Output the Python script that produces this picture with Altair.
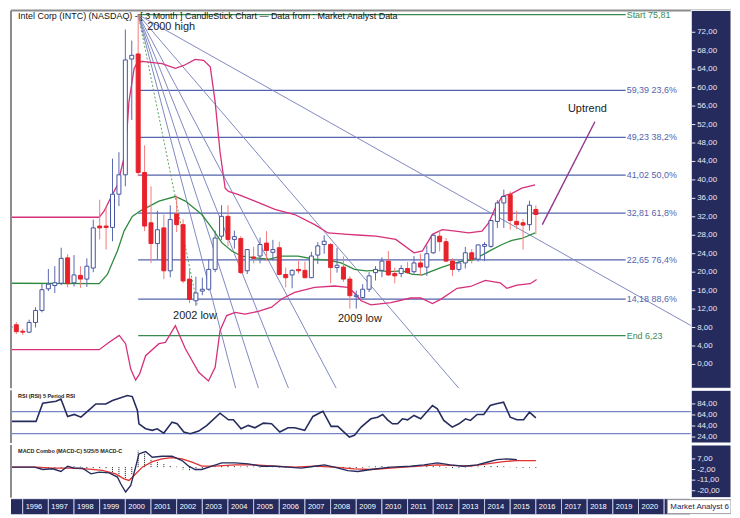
import altair as alt
import pandas as pd

# ---------------- colours ----------------
NAVY = "#262b5e"
UP_STROKE = "#4453a0"
UP_WICK = "#5a69ad"
DOWN_FILL = "#e8222a"
DOWN_WICK = "#f07c7c"
MA_GREEN = "#2e8b3e"
BB_PINK = "#d6307a"
FIB_BLUE = "#5463ad"
FIB_GREEN = "#3b8a52"
FAN_BLUE = "#7f88c2"

# ---------------- display extents ----------------
T_MIN, T_MAX = 1995.543, 2023.605
PANEL_T = 2022.055
TICK_LEN_T = 0.16
PRICE_DOMAIN = [-5.17, 76.74]
RSI_DOMAIN = [13.2, 108.7]
MACD_DOMAIN = [-25.9, 18.8]
W = 724
H_MAIN, H_RSI, H_MACD, H_BAND = 380, 53, 53, 16

# ---------------- quarterly candles (Q3 1995 .. Q1 2016) ----------------
opens = [7.9, 8.6,
         7.2, 7.0, 9.1, 11.7,
         16.4, 17.1, 17.6, 23.1,
         17.7, 19.3, 18.5, 20.9,
         30.0, 30.0, 29.7, 36.9,
         41.1, 66.2, 67.3, 41.6,
         30.7, 26.2, 29.6, 20.3,
         32.6, 30.3, 18.5, 13.8,
         15.9, 16.3, 20.6, 27.8,
         32.1, 27.1, 27.3, 20.3,
         23.3, 23.5, 26.3, 24.3,
         25.3, 19.5, 19.4, 20.6,
         20.4, 18.8, 23.7, 26.0,
         26.0, 21.0, 21.1, 18.5,
         14.7, 14.5, 16.3, 19.9,
         20.4, 22.4, 19.7, 19.7,
         20.8, 20.1, 22.0, 21.1,
         24.2, 27.8, 26.6, 22.4,
         20.6, 22.0, 24.2, 22.8,
         25.6, 25.6, 31.0, 35.0,
         36.8, 31.0, 30.7, 30.3,
         33.6]
highs = [9.1, 9.2,
         7.7, 9.7, 12.4, 17.5,
         20.7, 21.3, 25.3, 23.9,
         23.7, 21.3, 23.0, 31.4,
         35.7, 34.3, 44.6, 46.0,
         72.6, 70.2, 75.81, 47.5,
         38.6, 33.3, 32.5, 34.5,
         36.6, 31.5, 20.6, 19.0,
         18.8, 22.8, 29.0, 34.5,
         34.5, 29.0, 27.8, 25.0,
         25.5, 27.5, 28.9, 27.0,
         26.6, 21.0, 20.6, 22.5,
         22.3, 24.4, 26.5, 28.0,
         26.3, 25.3, 23.4, 19.1,
         16.0, 17.4, 20.0, 21.3,
         23.2, 24.6, 21.0, 21.5,
         22.2, 23.5, 24.0, 25.8,
         28.2, 28.9, 27.4, 23.0,
         22.5, 25.5, 25.0, 26.0,
         26.5, 31.3, 35.6, 37.9,
         37.5, 33.3, 31.5, 35.5,
         34.5]
lows = [7.5, 6.6,
        6.4, 6.8, 8.0, 11.3,
        15.9, 15.5, 17.2, 16.7,
        16.9, 16.6, 16.8, 20.0,
        27.1, 24.9, 26.7, 34.3,
        38.6, 53.0, 40.8, 28.9,
        22.0, 22.8, 18.5, 18.9,
        28.7, 17.6, 13.3, 12.7,
        15.0, 16.0, 20.0, 27.0,
        25.7, 25.1, 19.6, 19.6,
        21.9, 21.9, 22.5, 22.5,
        19.3, 16.7, 16.5, 19.7,
        18.7, 18.7, 21.8, 24.0,
        17.6, 19.9, 17.9, 12.1,
        12.1, 14.3, 15.7, 18.2,
        18.9, 19.2, 17.6, 18.9,
        19.6, 19.6, 19.2, 19.2,
        24.0, 24.5, 22.2, 19.2,
        20.1, 20.8, 21.9, 22.3,
        22.4, 25.3, 29.6, 29.6,
        29.2, 29.3, 24.9, 29.0,
        28.2]
closes = [8.3, 7.1,
          7.0, 9.1, 11.7, 16.2,
          17.4, 17.7, 23.0, 17.5,
          19.4, 18.5, 21.3, 29.6,
          29.6, 29.7, 36.9, 41.1,
          66.0, 67.0, 41.6, 30.0,
          26.2, 29.2, 20.3, 31.4,
          30.3, 18.1, 14.1, 15.5,
          16.3, 20.6, 27.4, 32.1,
          27.1, 27.7, 19.9, 24.9,
          23.0, 26.0, 24.7, 24.9,
          19.5, 18.8, 20.4, 20.3,
          18.8, 23.5, 25.7, 26.7,
          21.0, 21.5, 18.5, 14.9,
          15.0, 16.3, 19.2, 20.6,
          22.4, 19.4, 19.2, 20.8,
          19.9, 22.0, 21.1, 24.0,
          28.0, 26.6, 22.4, 20.6,
          22.0, 24.2, 22.8, 25.9,
          26.0, 31.2, 35.0, 36.4,
          31.2, 30.3, 30.2, 34.5,
          32.5]
quarter_t = [1995.5 + 0.25 * i for i in range(len(opens))]

# ---------------- moving average / bollinger bands (read vertices) ----------------
ma_t = [1995.5, 1998.98, 1999.30, 1999.69, 1999.95, 2000.27, 2000.59, 2001.31, 2001.95, 2002.34,
        2002.98, 2003.37, 2003.76, 2004.15, 2004.53, 2005.05, 2005.57, 2006.09, 2006.73, 2007.38,
        2007.90, 2008.41, 2008.93, 2009.38, 2009.77, 2010.28, 2010.80, 2011.19, 2011.58, 2011.97,
        2012.35, 2012.74, 2013.13, 2013.52, 2013.90, 2014.29, 2014.68, 2015.07, 2015.45, 2015.97]
ma_v = [17.6, 17.5, 19.5, 24.6, 28.9, 32.1, 33.3, 35.4, 36.4, 35.4,
        32.5, 29.6, 26.4, 24.6, 23.5, 23.1, 22.8, 23.5, 23.5, 22.8,
        22.6, 22.0, 20.6, 20.3, 20.4, 20.1, 20.3, 19.5, 19.4, 20.3,
        21.1, 21.8, 22.4, 22.6, 23.7, 24.9, 26.0, 26.9, 27.3, 28.5]

bbu_t = [1995.5, 1998.98, 1999.17, 1999.43, 1999.69, 1999.88, 2000.01, 2000.14, 2000.34, 2000.47,
         2000.66, 2001.43, 2001.95, 2002.28, 2002.72, 2003.05, 2003.31, 2003.50, 2003.69, 2003.89,
         2004.02, 2004.41, 2005.05, 2005.83, 2006.60, 2007.38, 2007.90, 2008.67, 2009.19, 2009.77,
         2010.54, 2011.25, 2011.58, 2011.97, 2012.35, 2012.87, 2013.38, 2013.90, 2014.16, 2014.42,
         2014.68, 2015.07, 2015.45, 2015.97]
bbu_v = [31.9, 31.9, 33.2, 36.1, 38.9, 43.2, 46.1, 56.9, 64.1, 65.5,
         65.7, 65.2, 64.2, 64.8, 66.1, 65.9, 64.5, 56.9, 46.1, 38.2,
         37.5, 36.8, 35.4, 33.6, 32.5, 30.3, 28.5, 28.2, 28.0, 27.8,
         27.1, 24.2, 24.6, 28.2, 29.2, 28.9, 28.5, 28.9, 30.7, 33.9,
         36.4, 37.1, 38.2, 38.9]

bbl_t = [1995.5, 1998.98, 1999.37, 1999.76, 2000.01, 2000.21, 2000.40, 2000.56, 2000.79, 2001.31,
         2001.56, 2001.95, 2002.34, 2002.86, 2003.24, 2003.50, 2003.69, 2003.95, 2004.28, 2004.66,
         2005.18, 2005.70, 2006.09, 2006.60, 2007.38, 2008.15, 2008.67, 2008.91, 2009.19, 2009.57,
         2010.35, 2011.12, 2011.51, 2011.97, 2012.29, 2012.93, 2013.45, 2014.03, 2014.61, 2014.87,
         2015.26, 2015.78, 2016.03]
bbl_v = [3.2, 3.2, 4.8, 6.3, 4.5, -1.0, -3.4, -2.0, 1.9, 4.5,
         4.8, 8.4, 3.4, -1.7, -3.6, -0.6, 7.3, 10.6, 11.3, 10.9,
         11.5, 12.4, 14.2, 15.6, 16.7, 17.0, 16.7, 15.6, 13.8, 12.9,
         13.4, 14.4, 14.4, 13.2, 14.1, 16.5, 16.9, 18.2, 17.7, 16.5,
         17.2, 17.5, 18.4]

# ---------------- fibonacci retracement ----------------
fib_levels = [75.81, 59.39, 49.23, 41.02, 32.81, 22.65, 14.18, 6.23]
fib_labels = ["Start 75,81", "59,39 23,6%", "49,23 38,2%", "41,02 50,0%",
              "32,81 61,8%", "22,65 76,4%", "14,18 88,6%", "End 6,23"]
fib_kind = ["edge", "ratio", "ratio", "ratio", "ratio", "ratio", "ratio", "edge"]
fib_from_t, fib_to_t = 2000.5, 2019.5

# ---------------- fan lines from the 2000 high ----------------
fan_origin_t, fan_origin_v = 2000.5, 75.81
fan_end_t = [2022.05, 2013.0, 2008.22, 2006.36, 2005.19, 2004.30]
fan_end_v = [8.4, -5.17, -5.17, -5.17, -5.17, -5.17]
fan_green_end = (2002.8, 13.0)

# ---------------- uptrend line and notes ----------------
uptrend_t = [2016.25, 2018.30]
uptrend_v = [30.3, 52.6]
note_text = ["2000 high", "2002 low", "2009 low", "Uptrend"]
note_t = [2000.85, 2001.86, 2008.29, 2017.25]
note_v = [72.4, 9.9, 9.1, 54.8]
title_text = "Intel Corp (INTC) (NASDAQ) - [ 3 Month ] CandleStick Chart \u2014 Data from : Market Analyst Data"

price_ticks = list(range(0, 73, 4))

# ---------------- RSI ----------------
rsi_t = [1995.55, 1996.52, 1996.78, 1997.30, 1997.49, 1997.75, 1998.01, 1998.27, 1998.59, 1998.85,
         1999.24, 1999.50, 2000.08, 2000.27, 2000.47, 2000.53, 2000.79, 2001.05, 2001.24, 2001.50,
         2001.82, 2002.02, 2002.28, 2002.53, 2002.86, 2003.18, 2003.69, 2004.02, 2004.21, 2004.51,
         2004.79, 2005.05, 2005.38, 2005.70, 2006.02, 2006.34, 2006.60, 2006.99, 2007.31, 2007.70,
         2008.02, 2008.28, 2008.73, 2008.93, 2009.19, 2009.57, 2009.83, 2010.03, 2010.22, 2010.41,
         2010.61, 2010.80, 2011.00, 2011.25, 2011.51, 2011.97, 2012.16, 2012.41, 2012.74, 2013.00,
         2013.26, 2013.45, 2013.71, 2013.97, 2014.22, 2014.42, 2014.74, 2015.00, 2015.26, 2015.52,
         2015.75, 2016.00]
rsi_v = [52.3, 52.3, 85.3, 88.9, 93.0, 61.3, 64.9, 60.0, 73.2, 84.0,
         84.0, 90.1, 99.1, 97.3, 72.1, 48.0, 39.0, 36.1, 39.0, 31.2,
         51.0, 48.0, 33.0, 30.0, 34.8, 45.1, 67.2, 55.2, 55.2, 39.0,
         45.1, 40.8, 49.2, 48.0, 33.0, 40.8, 40.8, 36.1, 61.3, 70.8,
         43.3, 43.3, 24.0, 27.1, 42.0, 57.0, 60.0, 64.9, 55.2, 48.0,
         48.0, 57.0, 55.2, 63.1, 57.0, 81.1, 75.0, 54.1, 42.0, 48.0,
         57.0, 54.1, 64.9, 64.9, 81.1, 84.0, 87.1, 60.0, 55.2, 55.2,
         69.0, 58.8]
rsi_levels = [70, 30]
rsi_ticks = [84, 64, 44, 24]

# ---------------- MACD ----------------
macd_t = [1995.55, 1996.46, 1996.78, 1997.17, 1997.49, 1997.75, 1998.01, 1998.33, 1998.66, 1998.98,
          1999.37, 1999.69, 1999.82, 2000.01, 2000.21, 2000.40, 2000.53, 2000.79, 2001.05, 2001.43,
          2001.82, 2002.21, 2002.47, 2002.72, 2002.98, 2003.37, 2003.76, 2004.28, 2004.79, 2005.31,
          2005.83, 2006.34, 2006.86, 2007.38, 2007.76, 2008.15, 2008.67, 2009.06, 2009.57, 2010.35,
          2011.12, 2011.64, 2012.16, 2012.67, 2013.19, 2013.71, 2014.10, 2014.48, 2014.87, 2015.26]
macd_v = [0.0, 0.0, -2.0, -1.4, -3.7, 0.8, -0.8, -0.8, -5.7, -4.2,
          -4.8, -8.4, -14.1, -21.1, -15.5, 0.0, 11.2, 13.2, 8.4, 9.3,
          9.3, 5.6, 0.8, -2.0, -2.0, 0.8, 3.6, 3.6, 2.8, 0.8,
          0.8, 0.0, -0.8, 0.8, 1.9, 0.0, -2.9, -3.7, -2.0, 0.0,
          0.8, 1.9, 3.6, 1.9, 0.8, 1.9, 4.2, 6.4, 7.0, 6.4]
sig_t = [1995.55, 1996.52, 1997.17, 1997.82, 1998.46, 1999.11, 1999.62, 1999.95, 2000.14, 2000.34,
         2000.66, 2001.05, 2001.43, 2001.82, 2002.21, 2002.60, 2002.98, 2003.50, 2004.28, 2005.05,
         2005.83, 2006.60, 2007.38, 2008.15, 2008.93, 2009.57, 2010.86, 2012.16, 2013.45, 2014.10,
         2014.74, 2015.26, 2016.00]
sig_v = [0.0, 0.0, -0.8, -0.8, -1.4, -2.8, -5.7, -9.9, -11.3, -7.1,
         0.0, 4.7, 7.0, 8.1, 7.0, 4.2, 0.8, 0.8, 1.9, 1.9,
         0.8, 0.0, 0.8, 0.0, -1.4, -2.0, 0.0, 1.9, 0.8, 2.8,
         4.7, 5.6, 5.6]
hist_v = [0, 0,
          0, 0, 0, -0.8,
          -0.8, -0.6, -1.2, 0.8,
          0.6, 0.4, -1.5, -0.8,
          -0.8, -1.5, -4.2, -8.5,
          -10.5, -6.0, 14.0, 12.0,
          7.0, 4.7, 2.8, 1.1,
          0.4, -2.0, -2.8, -2.8,
          -2.0, -0.6, 0.6, 1.2,
          1.0, 0.8, 0.5, 0.6,
          0.4, -0.4, 0.3, 0.5,
          -0.4, -0.6, -0.5, -0.4,
          0.3, 0.6, 1.0, 0.8,
          -0.5, -0.8, -1.2, -1.5,
          -1.2, -0.6, 0.5, 0.6,
          0.8, 0.4, -0.3, 0.3,
          0.4, 0.5, 0.3, 0.8,
          1.0, 0.6, -0.5, -0.8,
          -0.6, -0.4, 0.3, 0.5,
          0.8, 1.2, 1.0, 0.6,
          0.2, -0.4, -0.6, -0.5,
          -0.6]
macd_ticks = [7, -2, -11, -20]

# ---------------- year band ----------------
band_years = list(range(1995, 2022))
label_years = list(range(1996, 2022))
year_labels = ["1996", "1997", "1998", "1999", "2000", "2001", "2002", "2003", "2004",
               "2005", "2006", "2007", "2008", "2009", "2010", "2011", "2012", "2013",
               "2014", "2015", "2016", "2017", "2018", "2019", "2020", "2"]
logo_text = "Market Analyst 6"
logo_from_t = 2021.125

# ======================================================================
FONT = "Liberation Sans"
xs = alt.Scale(domain=[T_MIN, T_MAX], nice=False, zero=False, padding=0)
ys_main = alt.Scale(domain=PRICE_DOMAIN, nice=False, zero=False)
ys_rsi = alt.Scale(domain=RSI_DOMAIN, nice=False, zero=False)
ys_macd = alt.Scale(domain=MACD_DOMAIN, nice=False, zero=False)


def X(f):
    return alt.X(f, type="quantitative", scale=xs, axis=None)


def Y(f, sc):
    return alt.Y(f, type="quantitative", scale=sc, axis=None)


def fmt(v):
    return ("-" if v < 0 else "") + f"{abs(v):.2f}".replace(".", ",")


def border_layers(top=False):
    layers = [alt.Chart(pd.DataFrame({"t": [T_MIN]})).mark_rule(color="#8c8c8c", strokeWidth=2)
              .encode(x=X("t"))]
    if top:
        layers.append(alt.Chart(pd.DataFrame({"v": [PRICE_DOMAIN[1]]})).mark_rule(color="#8c8c8c", strokeWidth=2)
                      .encode(y=Y("v", ys_main)))
    return layers


def navy_panel(ydom, sc, ticks):
    df = pd.DataFrame({"t0": [PANEL_T], "t1": [T_MAX], "y0": [ydom[0]], "y1": [ydom[1]]})
    rect = alt.Chart(df).mark_rect(fill=NAVY, stroke="white", strokeWidth=1).encode(
        x=X("t0"), x2="t1", y=Y("y0", sc), y2="y1")
    tdf = pd.DataFrame({"v": ticks, "lab": [fmt(v) for v in ticks],
                        "t0": PANEL_T, "t1": PANEL_T + TICK_LEN_T})
    tick_marks = alt.Chart(tdf).mark_rule(color="#e8e8f4", strokeWidth=1).encode(
        x=X("t0"), x2="t1", y=Y("v", sc))
    labels = alt.Chart(tdf).mark_text(align="left", baseline="middle", dx=6, fontSize=8,
                                      font=FONT, color="#e8e8f4").encode(
        x=X("t0"), y=Y("v", sc), text="lab:N")
    return [rect, tick_marks, labels]


# ---------------- main panel ----------------
candles = pd.DataFrame({"t": quarter_t, "open": opens, "high": highs, "low": lows, "close": closes})
candles["dir"] = ["up" if c >= o else "down" for o, c in zip(opens, closes)]

wicks = alt.Chart(candles).mark_rule(strokeWidth=1, clip=True).encode(
    x=X("t"), y=Y("low", ys_main), y2="high",
    color=alt.Color("dir:N", scale=alt.Scale(domain=["up", "down"], range=[UP_WICK, DOWN_WICK]), legend=None))
bodies = alt.Chart(candles).mark_bar(size=4, strokeWidth=1, clip=True).encode(
    x=X("t"), y=Y("open", ys_main), y2="close",
    fill=alt.Fill("dir:N", scale=alt.Scale(domain=["up", "down"], range=["#ffffff", DOWN_FILL]), legend=None),
    stroke=alt.Stroke("dir:N", scale=alt.Scale(domain=["up", "down"], range=[UP_STROKE, DOWN_FILL]), legend=None))


def line_layer(ts, vs, color, width=1.3):
    return alt.Chart(pd.DataFrame({"t": ts, "v": vs})).mark_line(
        strokeWidth=width, color=color, clip=True).encode(x=X("t"), y=Y("v", ys_main))


ma_line = line_layer(ma_t, ma_v, MA_GREEN)
bbu_line = line_layer(bbu_t, bbu_v, BB_PINK)
bbl_line = line_layer(bbl_t, bbl_v, BB_PINK)

fib = pd.DataFrame({"level": fib_levels, "label": fib_labels, "kind": fib_kind,
                    "t0": fib_from_t, "t1": fib_to_t})
fib_layers = []
for kind, col in [("edge", FIB_GREEN), ("ratio", FIB_BLUE)]:
    sub = fib[fib["kind"] == kind]
    fib_layers.append(alt.Chart(sub).mark_rule(strokeWidth=1.3, color=col).encode(
        x=X("t0"), x2="t1", y=Y("level", ys_main)))
fib_text_layers = []
for kind, col in [("edge", FIB_GREEN), ("ratio", FIB_BLUE)]:
    sub = fib[fib["kind"] == kind]
    fib_text_layers.append(alt.Chart(sub).mark_text(align="left", baseline="middle", dx=1, fontSize=9,
                                                    font=FONT, color=col).encode(
        x=X("t1"), y=Y("level", ys_main), text="label:N"))

fan_rows = []
for i, (te, ve) in enumerate(zip(fan_end_t, fan_end_v)):
    fan_rows.append({"id": i, "t": fan_origin_t, "v": fan_origin_v})
    fan_rows.append({"id": i, "t": te, "v": ve})
fan = alt.Chart(pd.DataFrame(fan_rows)).mark_line(strokeWidth=1, color=FAN_BLUE, clip=True).encode(
    x=X("t"), y=Y("v", ys_main), detail="id:N")
fan_green = alt.Chart(pd.DataFrame({"t": [fan_origin_t, fan_green_end[0]],
                                    "v": [fan_origin_v, fan_green_end[1]]})).mark_line(
    strokeWidth=1, color="#5aa060", strokeDash=[2, 2], clip=True).encode(x=X("t"), y=Y("v", ys_main))

uptrend = alt.Chart(pd.DataFrame({"t": uptrend_t, "v": uptrend_v})).mark_line(
    strokeWidth=1.4, color="#93358f").encode(x=X("t"), y=Y("v", ys_main))

notes = alt.Chart(pd.DataFrame({"text": note_text, "t": note_t, "v": note_v})).mark_text(
    align="left", baseline="alphabetic", fontSize=11, font=FONT, color="#222222", clip=True).encode(
    x=X("t"), y=Y("v", ys_main), text="text:N")

title = alt.Chart(pd.DataFrame({"text": [title_text], "t": [1995.82], "v": [75.45]})).mark_text(
    align="left", baseline="middle", fontSize=9, font=FONT, color="#111111", clip=True).encode(
    x=X("t"), y=Y("v", ys_main), text="text:N")

main = alt.layer(
    *fib_layers, fan, fan_green, ma_line, bbu_line, bbl_line, wicks, bodies, uptrend, notes,
    *fib_text_layers, title,
    *border_layers(top=True),
    *navy_panel(PRICE_DOMAIN, ys_main, price_ticks),
).properties(width=W, height=H_MAIN)

# ---------------- RSI panel ----------------
rsi_lv = alt.Chart(pd.DataFrame({"v": rsi_levels})).mark_rule(color="#7486c8", strokeWidth=1.3).encode(
    y=Y("v", ys_rsi))
rsi_line = alt.Chart(pd.DataFrame({"t": rsi_t, "v": rsi_v})).mark_line(
    color="#262c5e", strokeWidth=1.6, clip=True).encode(x=X("t"), y=Y("v", ys_rsi))
rsi_label = alt.Chart(pd.DataFrame({"text": ["RSI (RSI) 5 Period RSI"], "t": [1995.82], "v": [98.0]})).mark_text(
    align="left", baseline="middle", fontSize=5.5, fontWeight="bold", font=FONT, color="#222222").encode(
    x=X("t"), y=Y("v", ys_rsi), text="text:N")
rsi = alt.layer(rsi_lv, rsi_line, rsi_label, *border_layers(),
                *navy_panel(RSI_DOMAIN, ys_rsi, rsi_ticks)).properties(width=W, height=H_RSI)

# ---------------- MACD panel ----------------
hist_df = pd.DataFrame({"t": quarter_t[:len(hist_v)], "h": hist_v, "z": 0.0})
hist = alt.Chart(hist_df).mark_rule(color="#111111", strokeWidth=1, strokeDash=[1, 1]).encode(
    x=X("t"), y=Y("z", ys_macd), y2="h")
macd_line = alt.Chart(pd.DataFrame({"t": macd_t, "v": macd_v})).mark_line(
    color="#262c5e", strokeWidth=1.4).encode(x=X("t"), y=Y("v", ys_macd))
sig_line = alt.Chart(pd.DataFrame({"t": sig_t, "v": sig_v})).mark_line(
    color="#e03030", strokeWidth=1.3).encode(x=X("t"), y=Y("v", ys_macd))
macd_label = alt.Chart(pd.DataFrame({"text": ["MACD Combo (MACD-C) 5/25/5 MACD-C"], "t": [1995.82],
                                     "v": [13.7]})).mark_text(
    align="left", baseline="middle", fontSize=5.5, fontWeight="bold", font=FONT, color="#222222").encode(
    x=X("t"), y=Y("v", ys_macd), text="text:N")
macd = alt.layer(hist, sig_line, macd_line, macd_label, *border_layers(),
                 *navy_panel(MACD_DOMAIN, ys_macd, macd_ticks)).properties(width=W, height=H_MACD)

# ---------------- year band ----------------
ys_band = alt.Scale(domain=[0, 1], nice=False, zero=False)
yr_df = pd.DataFrame({"y0": band_years, "y1": [y + 1 for y in band_years], "b0": 0.0, "b1": 1.0})
yr_rects = alt.Chart(yr_df).mark_rect(fill=NAVY, stroke="#c4c8e0", strokeWidth=1, clip=True).encode(
    x=X("y0"), x2="y1", y=Y("b0", ys_band), y2="b1")
yr_text = alt.Chart(pd.DataFrame({"yr": label_years, "lab": year_labels, "m": 0.5})).mark_text(
    align="left", baseline="middle", dx=3, fontSize=7.5, font=FONT, color="#ffffff", clip=True).encode(
    x=X("yr"), y=Y("m", ys_band), text="lab:N")
logo_box = alt.Chart(pd.DataFrame({"t0": [logo_from_t], "t1": [T_MAX], "b0": [0.06], "b1": [0.94]})).mark_rect(
    fill="#ffffff", stroke="#9a9a9a", strokeWidth=1, clip=True).encode(
    x=X("t0"), x2="t1", y=Y("b0", ys_band), y2="b1")
logo_text_m = alt.Chart(pd.DataFrame({"t": [logo_from_t], "m": [0.5], "text": [logo_text]})).mark_text(
    align="left", baseline="middle", dx=3, fontSize=8, font=FONT, color="#1c2150", clip=True).encode(
    x=X("t"), y=Y("m", ys_band), text="text:N")
band = alt.layer(yr_rects, yr_text, logo_box, logo_text_m).properties(width=W, height=H_BAND)

chart = alt.vconcat(main, rsi, macd, band, spacing=0).properties(
    padding=0, background="white"
).configure_view(stroke=None)

chart.save("out.html", embed_options={"renderer": "svg", "actions": False})
